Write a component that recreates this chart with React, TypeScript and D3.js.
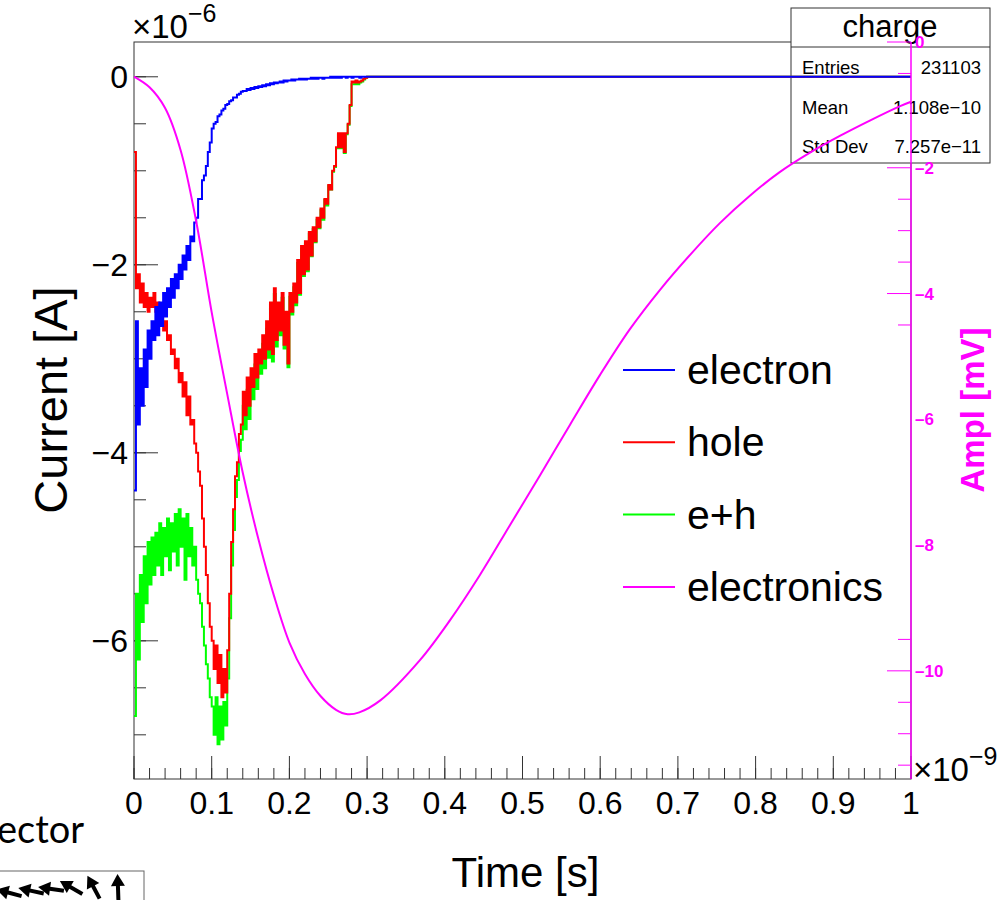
import React from "react";
import * as d3 from "d3";

// Induced current histograms, 0.0025 ns bins starting at t = 0 (units of 1e-6 A)
const BIN_WIDTH = 0.0025;
const electron = [
  -4.4, -2.6, -3.7, -3.1, -3.5, -2.9, -3.3, -2.7, -3.0, -2.6,
  -2.8, -2.45, -2.75, -2.4, -2.65, -2.3, -2.55, -2.25, -2.45, -2.15,
  -2.35, -2.1, -2.25, -2.0, -2.15, -1.9, -2.05, -1.8, -1.95, -1.7,
  -1.75, -1.55, -1.5, -1.3, -1.3, -1.1, -1.05, -0.95, -0.8, -0.7,
  -0.55, -0.5, -0.48, -0.42, -0.4, -0.36, -0.34, -0.3, -0.29, -0.26,
  -0.25, -0.22, -0.22, -0.19, -0.18, -0.16, -0.15, -0.15, -0.13, -0.14,
  -0.12, -0.13, -0.11, -0.12, -0.1, -0.11, -0.09, -0.1, -0.08, -0.09,
  -0.07, -0.08, -0.06, -0.07, -0.06, -0.05, -0.06, -0.04, -0.05, -0.04,
  -0.04, -0.03, -0.04, -0.03, -0.03, -0.02, -0.03, -0.02, -0.03, -0.02,
  -0.02, -0.01, -0.02, -0.01, -0.02, -0.01, -0.01, -0.02, -0.01, -0.01,
  -0.01, 0, -0.01, 0, -0.01, 0, -0.01, 0, 0, -0.01,
  0, 0, -0.01, 0, 0, 0, -0.01, 0, 0, 0,
];
const hole = [
  -0.8, -2.25, -2.1, -2.4, -2.2, -2.45, -2.3, -2.5, -2.35, -2.45,
  -2.3, -2.5, -2.4, -2.6, -2.5, -2.7, -2.6, -2.8, -2.75, -2.95,
  -2.9, -3.1, -3.0, -3.25, -3.15, -3.4, -3.25, -3.6, -3.4, -3.7,
  -3.65, -3.9, -4.0, -4.2, -4.35, -4.7, -5.0, -5.3, -5.6, -5.85,
  -6.0, -6.3, -6.05, -6.45, -6.15, -6.6, -6.3, -6.55, -6.1, -5.5,
  -4.95, -4.6, -4.25, -4.1, -3.8, -3.7, -3.35, -3.6, -3.2, -3.5,
  -3.1, -3.3, -2.95, -3.2, -2.9, -3.05, -2.75, -3.0, -2.6, -2.9,
  -2.4, -2.95, -2.25, -2.8, -2.4, -2.7, -2.3, -2.85, -2.5, -3.05,
  -2.3, -2.5, -2.2, -2.4, -1.95, -2.3, -1.8, -2.1, -1.75, -2.05,
  -1.65, -1.9, -1.6, -1.75, -1.5, -1.6, -1.4, -1.5, -1.3, -1.35,
  -1.15, -1.2, -1.0, -0.95, -0.75, -0.6, -0.75, -0.6, -0.8, -0.6,
  -0.5, -0.3, -0.05, -0.06, -0.04, -0.06, -0.05, -0.04, -0.02, -0.01,
];
const ePlusH = [
  -6.8, -5.5, -6.2, -5.3, -5.8, -5.1, -5.6, -4.95, -5.4, -4.9,
  -5.3, -4.85, -5.2, -4.75, -5.3, -4.8, -5.1, -4.7, -5.25, -4.75,
  -5.05, -4.65, -5.2, -4.6, -5.0, -4.7, -5.35, -4.65, -5.1, -4.8,
  -5.2, -5.0, -5.35, -5.5, -5.6, -5.85, -6.05, -6.25, -6.4, -6.6,
  -6.7, -7.0, -6.6, -7.1, -6.7, -7.05, -6.65, -6.9, -6.4, -5.76,
  -5.2, -4.82, -4.47, -4.29, -3.98, -3.86, -3.5, -3.75, -3.33, -3.64,
  -3.22, -3.43, -3.06, -3.32, -3.0, -3.16, -2.84, -3.1, -2.68, -2.99,
  -2.47, -3.03, -2.31, -2.87, -2.46, -2.75, -2.35, -2.89, -2.55, -3.09,
  -2.34, -2.53, -2.24, -2.43, -1.98, -2.32, -1.83, -2.12, -1.78, -2.07,
  -1.67, -1.91, -1.62, -1.76, -1.52, -1.61, -1.42, -1.52, -1.31, -1.37,
  -1.16, -1.2, -1.01, -0.96, -0.76, -0.61, -0.76, -0.61, -0.81, -0.61,
  -0.51, -0.31, -0.08, -0.08, -0.06, -0.08, -0.06, -0.05, -0.03, -0.01,
];

// Shaped electronics response (time in ns, amplitude in mV)
const electronicsTime = [
  0, 0.02, 0.04, 0.06, 0.08, 0.1, 0.12, 0.14, 0.16, 0.18, 0.2, 0.22, 0.24,
  0.26, 0.275, 0.29, 0.317, 0.368, 0.407, 0.445, 0.484, 0.523, 0.561, 0.6,
  0.638, 0.677, 0.716, 0.754, 0.793, 0.831, 0.87, 0.909, 0.947, 0.986, 1.0,
];
const electronicsAmpl = [
  -0.55, -0.72, -1.05, -1.72, -2.85, -4.3, -5.6, -6.85, -7.9, -8.8, -9.55,
  -10.05, -10.4, -10.62, -10.69, -10.66, -10.47, -9.83, -9.19, -8.48, -7.68,
  -6.88, -6.09, -5.29, -4.57, -3.94, -3.38, -2.88, -2.44, -2.07, -1.76, -1.49,
  -1.25, -1.02, -0.95,
];

// Axis ticks
const xMajorTicks = [0, 0.1, 0.2, 0.3, 0.4, 0.5, 0.6, 0.7, 0.8, 0.9, 1];
const xTickLabels = ["0", "0.1", "0.2", "0.3", "0.4", "0.5", "0.6", "0.7", "0.8", "0.9", "1"];
const yMajorTicks = [0, -2, -4, -6];
const yTickLabels = ["0", "\u22122", "\u22124", "\u22126"];
const rightLabelValues = [0, -2, -4, -6, -8, -10];
const rightLabels = ["0", "\u20132", "\u20134", "\u20136", "\u20138", "\u201310"];
const rightMajorTickValues = [0, -2, -4, -10];
const rightMinorTickValues = [-0.5, -2.5, -3, -3.5, -4.5, -9.5, -10.5, -11, -11.5];

// Legend and statistics box
const legendNames = ["electron", "hole", "e+h", "electronics"];
const legendColors = ["#0000ff", "#ff0000", "#00ff00", "#ff00ff"];
const statsTitle = "charge";
const statsNames = ["Entries", "Mean", "Std Dev"];
const statsValues = ["231103", "1.108e\u221210", "7.257e\u221211"];

// Field arrows in the picture fragment below the plot: [x, y, head direction in degrees]
const fieldArrows = [
  [10, 893, -165],
  [32, 891, -168],
  [52, 889, -172],
  [72, 888, -150],
  [94, 888, -118],
  [118, 888, -92],
];

const FONT = "'Liberation Sans', Arial, Helvetica, sans-serif";

const W = 998;
const H = 900;
const frame = { left: 134, right: 911, top: 42, bottom: 779 };

export default function App() {
  const x = d3.scaleLinear().domain([0, 1]).range([frame.left, frame.right]);
  const yL = d3.scaleLinear().domain([-7.47, 0.37]).range([frame.bottom, frame.top]);
  const yR = d3.scaleLinear().domain([-11.72, 0]).range([frame.bottom, frame.top]);

  const stepLine = d3
    .line<[number, number]>()
    .x((d) => x(d[0]))
    .y((d) => yL(d[1]))
    .curve(d3.curveStepAfter);

  const histPath = (vals: number[]) => {
    const pts: [number, number][] = vals.map((v, i) => [i * BIN_WIDTH, v]);
    pts.push([vals.length * BIN_WIDTH, 0]);
    pts.push([1, 0]);
    return stepLine(pts) || "";
  };

  const elecLine = d3
    .line<number>()
    .x((_, i) => x(electronicsTime[i]))
    .y((d) => yR(d))
    .curve(d3.curveCatmullRom.alpha(0.5));

  const xMinor = d3.range(0, 1.0001, 0.02);
  const yMinor = d3.range(0, -7.2, -0.5);
  const axisColor = "#333";

  const legendX = 623;
  const legendY0 = 370;
  const legendDy = 72.3;

  return (
    <svg
      width={W}
      height={H}
      style={{ position: "absolute", left: 0, top: 0, background: "#fff" }}
      fontFamily={FONT}
    >
      <rect x={0} y={0} width={W} height={H} fill="#fff" />

      {/* frame */}
      <rect
        x={frame.left}
        y={frame.top}
        width={frame.right - frame.left}
        height={frame.bottom - frame.top}
        fill="none"
        stroke={axisColor}
        strokeWidth={1}
      />

      {/* x axis ticks */}
      {xMinor.map((t, i) => (
        <line key={"xm" + i} x1={x(t)} x2={x(t)} y1={frame.bottom} y2={frame.bottom - 11} stroke={axisColor} />
      ))}
      {xMajorTicks.map((t, i) => (
        <line key={"xM" + i} x1={x(t)} x2={x(t)} y1={frame.bottom} y2={frame.bottom - 23} stroke={axisColor} />
      ))}
      {xMajorTicks.map((t, i) => (
        <text key={"xl" + i} x={x(t)} y={814} fontSize={32} textAnchor="middle" fill="#000">
          {xTickLabels[i]}
        </text>
      ))}
      <text x={(frame.left + frame.right) / 2 + 3} y={887} fontSize={42} textAnchor="middle" fill="#000">
        Time [s]
      </text>
      <text x={913} y={781} fontSize={33} fill="#000">
        ×10
        <tspan dy={-16} fontSize={25}>
          {"\u22129"}
        </tspan>
      </text>

      {/* left axis */}
      {yMinor.map((v, i) => (
        <line key={"ym" + i} x1={frame.left} x2={frame.left + 12} y1={yL(v)} y2={yL(v)} stroke={axisColor} />
      ))}
      {yMajorTicks.map((v, i) => (
        <line key={"yM" + i} x1={frame.left} x2={frame.left + 24} y1={yL(v)} y2={yL(v)} stroke={axisColor} />
      ))}
      {yMajorTicks.map((v, i) => (
        <text key={"yl" + i} x={128} y={yL(v) + 11} fontSize={32} textAnchor="end" fill="#000">
          {yTickLabels[i]}
        </text>
      ))}
      <text x={132} y={38} fontSize={33} fill="#000">
        ×10
        <tspan dy={-16} fontSize={25}>
          {"\u22126"}
        </tspan>
      </text>
      <text
        transform={`translate(67, 400) rotate(-90)`}
        fontSize={47}
        textAnchor="middle"
        fill="#000"
      >
        Current [A]
      </text>

      {/* statistics box */}
      <rect x={791} y={8} width={199} height={155} fill="#fff" stroke={axisColor} strokeWidth={1} />
      <line x1={791} x2={990} y1={47} y2={47} stroke={axisColor} />
      <text x={890} y={37} fontSize={31} textAnchor="middle" fill="#000">
        {statsTitle}
      </text>
      {statsNames.map((n, i) => (
        <g key={"st" + i}>
          <text x={802} y={74 + i * 39.5} fontSize={18.5} fill="#000">
            {n}
          </text>
          <text x={981} y={74 + i * 39.5} fontSize={18.5} textAnchor="end" fill="#000">
            {statsValues[i]}
          </text>
        </g>
      ))}

      {/* current histograms */}
      <path d={histPath(ePlusH)} fill="none" stroke="#00ff00" strokeWidth={2} />
      <path d={histPath(hole)} fill="none" stroke="#ff0000" strokeWidth={2} />
      <path d={histPath(electron)} fill="none" stroke="#0000ff" strokeWidth={2} />

      {/* electronics response */}
      <path d={elecLine(electronicsAmpl) || ""} fill="none" stroke="#ff00ff" strokeWidth={2} />

      {/* right axis */}
      <line x1={frame.right} x2={frame.right} y1={frame.top} y2={frame.bottom} stroke="#ff00ff" strokeWidth={1.5} />
      {rightMinorTickValues.map((v, i) => (
        <line key={"rm" + i} x1={frame.right - 13} x2={frame.right} y1={yR(v)} y2={yR(v)} stroke="#ff00ff" />
      ))}
      {rightMajorTickValues.map((v, i) => (
        <line key={"rM" + i} x1={frame.right - 24} x2={frame.right} y1={yR(v)} y2={yR(v)} stroke="#ff00ff" />
      ))}
      {rightLabelValues.map((v, i) => (
        <text
          key={"rl" + i}
          x={frame.right + 4}
          y={yR(v) + 6}
          fontSize={17}
          fontWeight="bold"
          fill="#ff00ff"
        >
          {rightLabels[i]}
        </text>
      ))}
      <text
        transform={`translate(984, 410) rotate(-90)`}
        fontSize={33}
        fontWeight="bold"
        textAnchor="middle"
        fill="#ff00ff"
      >
        Ampl [mV]
      </text>

      {/* legend */}
      {legendNames.map((n, i) => (
        <g key={"lg" + i}>
          <line
            x1={legendX}
            x2={legendX + 52}
            y1={legendY0 + i * legendDy}
            y2={legendY0 + i * legendDy}
            stroke={legendColors[i]}
            strokeWidth={2}
          />
          <text x={687} y={legendY0 + i * legendDy + 14} fontSize={41} fill="#000">
            {n}
          </text>
        </g>
      ))}

      {/* slide fragment below the plot */}
      <text x={-3} y={843} fontSize={38} fontFamily="Lato, 'Open Sans', sans-serif" fill="#000">
        ector
      </text>
      <rect x={-1} y={871} width={145} height={40} fill="none" stroke="#666" strokeWidth={1} />
      {fieldArrows.map((a, i) => (
        <g key={"ar" + i} transform={`translate(${a[0]}, ${a[1]}) rotate(${a[2]})`}>
          <line x1={-12} y1={0} x2={4} y2={0} stroke="#000" strokeWidth={4} />
          <path d="M2,-7 L14,0 L2,7 Z" fill="#000" />
        </g>
      ))}
    </svg>
  );
}
